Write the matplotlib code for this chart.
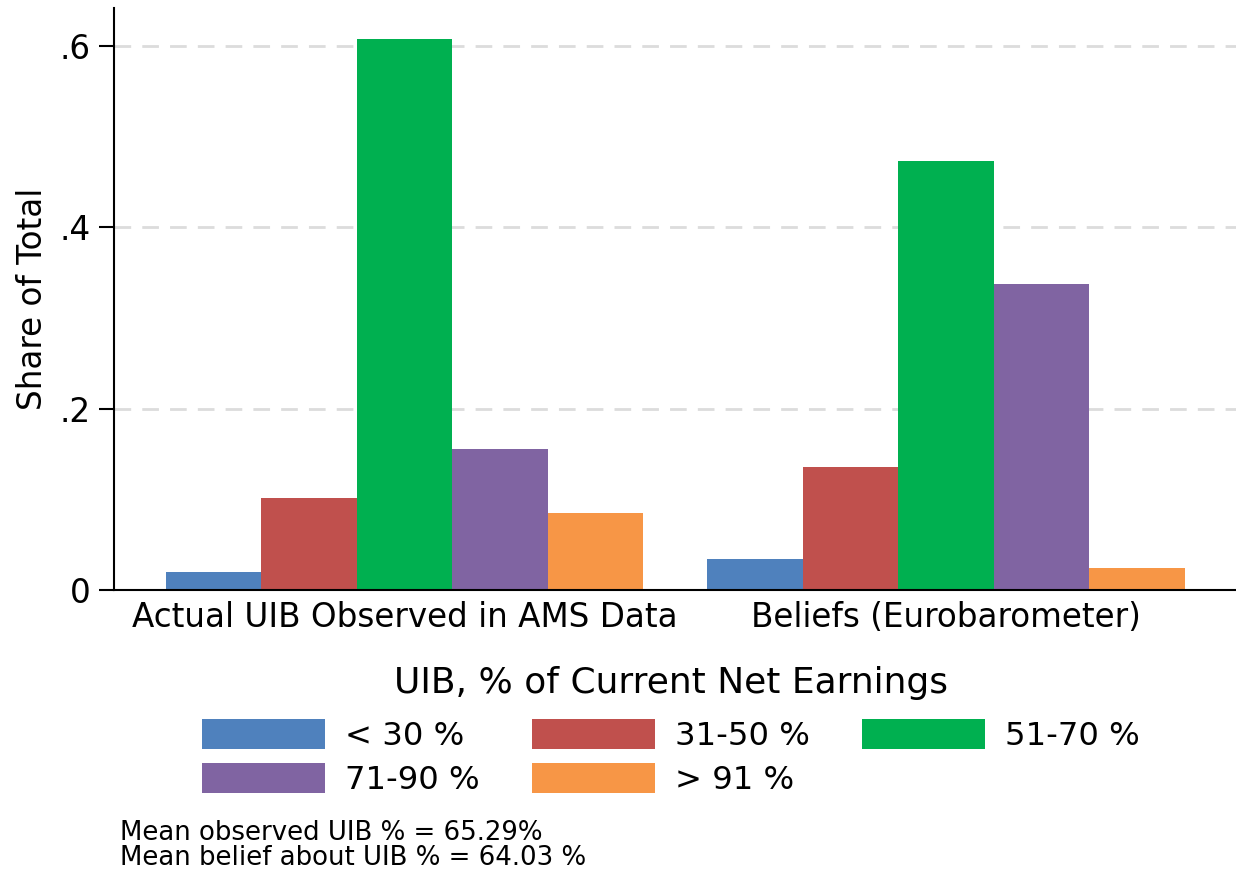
import matplotlib
matplotlib.use("Agg")
import matplotlib.pyplot as plt
import numpy as np

groups = ["Actual UIB Observed in AMS Data", "Beliefs (Eurobarometer)"]
categories = ["< 30 %", "31-50 %", "51-70 %", "71-90 %", "> 91 %"]
colors = ["#4f81bd", "#c0504d", "#00b050", "#8064a2", "#f79646"]
values = {
    "< 30 %": [0.020, 0.034],
    "31-50 %": [0.101, 0.136],
    "51-70 %": [0.608, 0.473],
    "71-90 %": [0.155, 0.337],
    "> 91 %": [0.085, 0.024],
}
yticks = [0, 0.2, 0.4, 0.6]
yticklabels = ["0", ".2", ".4", ".6"]
notes = ["Mean observed UIB % = 65.29%", "Mean belief about UIB % = 64.03 %"]

fig = plt.figure(figsize=(12.36, 8.73), dpi=100)
ax = fig.add_axes([114/1236, 1-590/873, 1-114/1236, (590-8)/873])

x = np.arange(len(groups))
w = 0.1764
bars = []
for i, (cat, col) in enumerate(zip(categories, colors)):
    b = ax.bar(x + (i - 2) * w, values[cat], width=w, color=col, label=cat, zorder=2)
    bars.append(b)

ax.set_xlim(-0.5365, 1.5355)
ax.set_ylim(0, 0.642)
ax.set_yticks(yticks)
ax.set_yticklabels(yticklabels, fontsize=23.5)
ax.set_xticks(x)
ax.set_xticklabels(groups, fontsize=23.5)
ax.tick_params(axis='x', length=0, pad=8)
ax.tick_params(axis='y', length=11, width=1.5, direction='out', pad=6)
for s in ["top", "right"]:
    ax.spines[s].set_visible(False)
ax.spines["left"].set_linewidth(1.5)
ax.spines["bottom"].set_linewidth(1.5)
ax.yaxis.grid(True, linestyle=(0, (6, 4)), color="#dcdcdc", linewidth=2, zorder=0)
ax.set_axisbelow(True)
ax.set_ylabel("Share of Total", fontsize=23.5, labelpad=7)

order = [0, 3, 1, 4, 2]
leg = fig.legend([bars[i] for i in order], [categories[i] for i in order],
                 loc="center", bbox_to_anchor=(671/1236, 1-731/873), ncol=3,
                 fontsize=23.2, title="UIB, % of Current Net Earnings", title_fontsize=25.9,
                 frameon=False, handlelength=3.82, handleheight=1.02,
                 handletextpad=0.62, columnspacing=1.62, labelspacing=0.35,
                 borderaxespad=0, borderpad=0)
leg._legend_box.sep = 14

fig.text(120/1236, 1-833/873, notes[0], fontsize=18.7, va="center", ha="left")
fig.text(120/1236, 1-858/873, notes[1], fontsize=18.7, va="center", ha="left")

fig.savefig("out.png", dpi=100)
